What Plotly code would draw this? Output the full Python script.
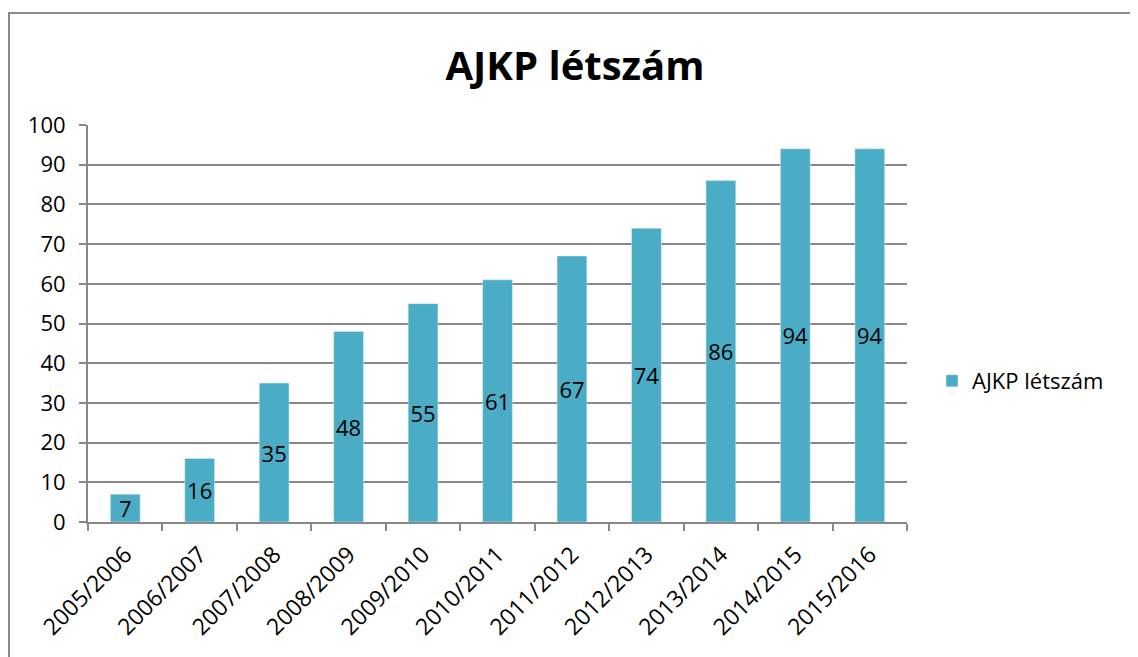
import plotly.graph_objects as go

categories = ["2005/2006", "2006/2007", "2007/2008", "2008/2009", "2009/2010",
              "2010/2011", "2011/2012", "2012/2013", "2013/2014", "2014/2015", "2015/2016"]
values = [7, 16, 35, 48, 55, 61, 67, 74, 86, 94, 94]
series_name = "AJKP létszám"

OFF = 8  # default page body margin
W, H = 1138 - OFF, 657 - OFF
L, T = 88 - OFF, 125 - OFF
R = W - (907 - OFF)
B = H - (522 - OFF)
pw, ph = W - L - R, H - T - B

def px2x(p):  # page pixel -> paper x
    return (p - OFF - L) / pw

def px2y(p):  # page pixel -> paper y
    return (H - B - (p - OFF)) / ph

fig = go.Figure()
fig.add_trace(go.Bar(
    x=categories, y=values, name=series_name,
    marker=dict(color="#4BACC6"),
    text=[str(v) for v in values],
    textposition="inside", insidetextanchor="middle",
    textangle=0, constraintext="none",
    textfont=dict(color="black", size=22, family="Open Sans"),
    cliponaxis=False,
    showlegend=True,
))

fig.add_shape(type="rect", xref="paper", yref="paper",
              x0=px2x(9), x1=px2x(1136), y0=px2y(700), y1=px2y(13),
              line=dict(color="#8a8a8a", width=2), fillcolor="rgba(0,0,0,0)", layer="below")

fig.update_layout(
    width=W, height=H,
    margin=dict(l=L, r=R, t=T, b=B, autoexpand=False),
    paper_bgcolor="white", plot_bgcolor="white",
    bargap=0.6,
    font=dict(family="Open Sans", color="black"),
    title=dict(text="<b>AJKP létszám</b>", x=(575 - OFF) / W, xanchor="center",
               y=1 - (66 - OFF) / H, yanchor="middle", xref="container", yref="container",
               font=dict(size=40, family="Open Sans", color="black")),
    legend=dict(x=px2x(932), y=px2y(381), xanchor="left", yanchor="middle",
                font=dict(size=22, family="Open Sans", color="black"),
                bgcolor="rgba(0,0,0,0)"),
    xaxis=dict(showline=True, linecolor="#888888", linewidth=2,
               ticks="outside", tickson="boundaries", ticklen=7, tickcolor="#888888", tickwidth=2,
               tickangle=-45, tickfont=dict(size=23, color="black"), automargin=False,
               ticklabelstandoff=8),
    yaxis=dict(range=[0, 100], dtick=10, showline=True, linecolor="#888888", linewidth=2,
               ticks="outside", ticklen=7, tickcolor="#888888", tickwidth=2,
               showgrid=True, gridcolor="#888888", gridwidth=1.5,
               tickfont=dict(size=22, color="black"), zeroline=False, automargin=False,
               ticklabelstandoff=9),
)

fig.write_html("out.html")
